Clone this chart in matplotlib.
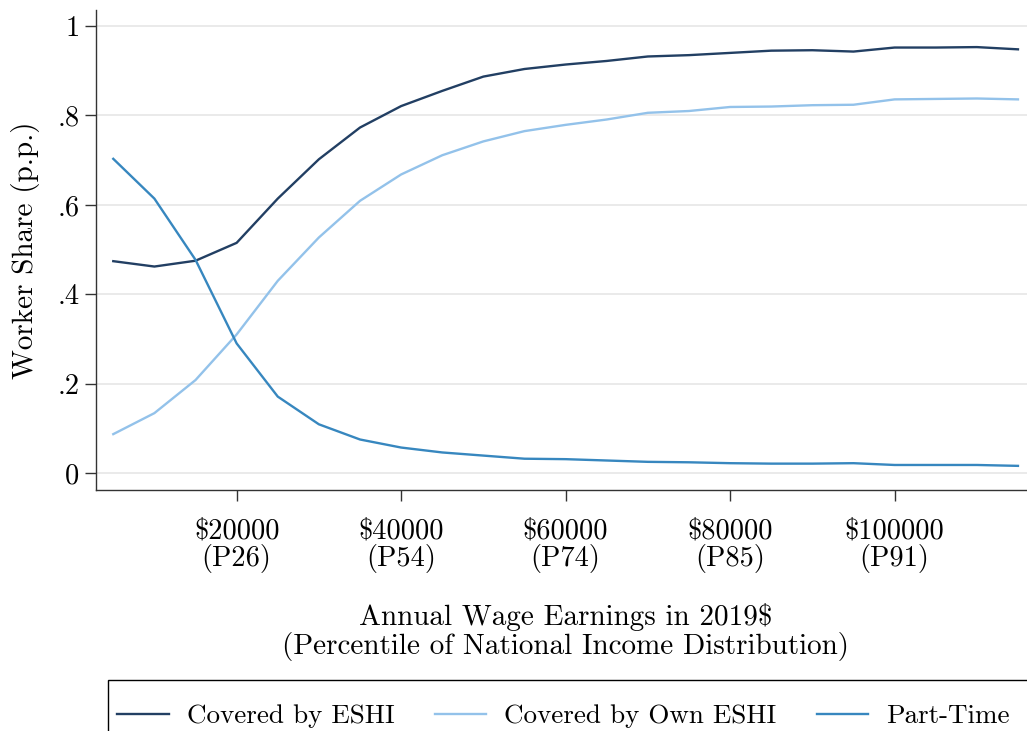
import numpy as np
import matplotlib.pyplot as plt
from matplotlib.patches import Rectangle

plt.rcParams['font.family'] = ['cmr10', 'DejaVu Serif']
plt.rcParams['axes.formatter.use_mathtext'] = True

# wage bins (2019$)
earnings = [5000, 10000, 15000, 20000, 25000, 30000, 35000, 40000, 45000, 50000,
            55000, 60000, 65000, 70000, 75000, 80000, 85000, 90000, 95000, 100000,
            105000, 110000, 115000]

covered_eshi = [0.474, 0.462, 0.475, 0.515, 0.614, 0.702, 0.773, 0.821, 0.855, 0.887,
                0.904, 0.914, 0.922, 0.932, 0.935, 0.940, 0.945, 0.946, 0.943, 0.952,
                0.952, 0.953, 0.948]
covered_own = [0.087, 0.134, 0.208, 0.310, 0.430, 0.527, 0.609, 0.668, 0.711, 0.742,
               0.765, 0.779, 0.791, 0.806, 0.810, 0.819, 0.820, 0.823, 0.824, 0.836,
               0.837, 0.838, 0.836]
part_time = [0.703, 0.614, 0.477, 0.290, 0.171, 0.109, 0.075, 0.057, 0.046, 0.039,
             0.032, 0.031, 0.028, 0.025, 0.024, 0.022, 0.021, 0.021, 0.022, 0.018,
             0.018, 0.018, 0.016]

xticks = [20000, 40000, 60000, 80000, 100000]
xtick_labels = ['\\$20000\n(P26)', '\\$40000\n(P54)', '\\$60000\n(P74)',
                '\\$80000\n(P85)', '\\$100000\n(P91)']
yticks = [0, 0.2, 0.4, 0.6, 0.8, 1.0]
ytick_labels = ['0', '.2', '.4', '.6', '.8', '1']

fig = plt.figure(figsize=(10.27, 7.31), dpi=100)
W, H = 1027, 731
ax = fig.add_axes([96/W, 241/H, 931/W, 480/H])

l1, = ax.plot(earnings, covered_eshi, color='#223f63', lw=1.7, label='Covered by ESHI')
l2, = ax.plot(earnings, covered_own, color='#93c2ea', lw=1.7, label='Covered by Own ESHI')
l3, = ax.plot(earnings, part_time, color='#3787bf', lw=1.7, label='Part-Time')

ax.set_xlim(2900, 116100)
ax.set_ylim(-0.038, 1.036)
ax.set_xticks(xticks)
ax.set_xticklabels(xtick_labels, fontsize=20.5, linespacing=1.0)
ax.set_yticks(yticks)
ax.set_yticklabels(ytick_labels, fontsize=20.5)
ax.grid(axis='y', color='#e6e6e6', lw=1.2)
ax.set_axisbelow(True)
for s in ['top', 'right']:
    ax.spines[s].set_visible(False)
for s in ['left', 'bottom']:
    ax.spines[s].set_color('#333333')
    ax.spines[s].set_linewidth(1.0)
ax.tick_params(axis='both', direction='out', length=8, width=1.0, color='#333333')
ax.tick_params(axis='x', pad=12)
ax.tick_params(axis='y', pad=4)

ax.set_ylabel('Worker Share (p.p.)', fontsize=21)
ax.yaxis.set_label_coords((40 - 96)/931, 0.5)
ax.set_xlabel('Annual Wage Earnings in 2019\\$\n(Percentile of National Income Distribution)',
              fontsize=21, linespacing=1.05)
ax.xaxis.set_label_coords((566 - 96)/931, -(603 - 490)/480)

# legend box, runs past the right and bottom edges
fig.patches.append(Rectangle((108/W, -0.05), 1.0, (51/H) + 0.05, transform=fig.transFigure,
                             facecolor='white', edgecolor='black', lw=1.0, zorder=0))
leg = fig.legend(handles=[l1, l2, l3], loc='center left', ncol=3,
                 bbox_to_anchor=(108/W, 1 - 716/H), fontsize=19.5, frameon=False,
                 handlelength=1.9, handletextpad=0.65, columnspacing=1.5,
                 borderaxespad=0, borderpad=0.35)

fig.savefig('out.png', dpi=100)
